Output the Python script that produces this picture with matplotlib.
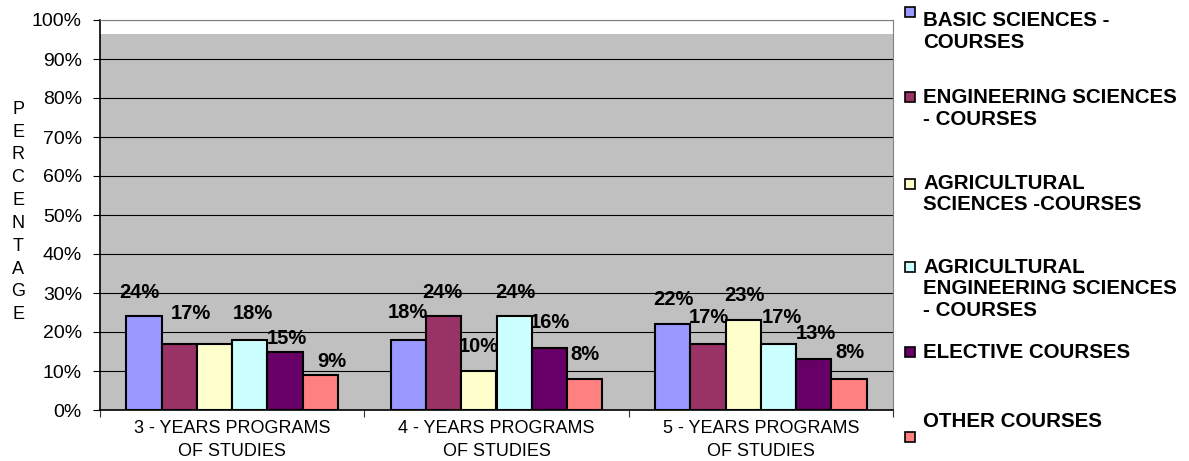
import matplotlib.pyplot as plt
from matplotlib.patches import Rectangle
from matplotlib.ticker import PercentFormatter

# Datos del grafico
programs = ["3 - YEARS PROGRAMS\nOF STUDIES", "4 - YEARS PROGRAMS\nOF STUDIES", "5 - YEARS PROGRAMS\nOF STUDIES"]
series_names = ["BASIC SCIENCES -\nCOURSES", "ENGINEERING SCIENCES\n- COURSES", "AGRICULTURAL\nSCIENCES -COURSES",
                "AGRICULTURAL\nENGINEERING SCIENCES\n- COURSES", "ELECTIVE COURSES", "OTHER COURSES"]
basic = [24, 18, 22]
engineering = [17, 24, 17]
agricultural = [17, 10, 23]
agri_engineering = [18, 24, 17]
elective = [15, 16, 13]
other = [9, 8, 8]
series_values = [basic, engineering, agricultural, agri_engineering, elective, other]
colors = ["#9999FF", "#993366", "#FFFFCC", "#CCFFFF", "#660066", "#FF8080"]
# etiquetas visibles (la de la tercera barra del primer grupo no aparece)
show_label = [[True, True, False, True, True, True],
              [True] * 6,
              [True] * 6]

# desplazamientos de las etiquetas en pixeles (dx, dy) respecto al tope de la barra
label_dx = [[-5, 12, 0, 3, 2, 12], [-1, -1, 0, 1, 1, 0], [1, 1, 1, 3, 2, 1]]
label_dy = [[24, 30, 25, 26, 13, 13], [27, 24, 24, 24, 25, 24], [25, 26, 25, 26, 26, 26]]

plt.rcParams['font.family'] = ['Liberation Sans', 'DejaVu Sans']

W, H = 1189, 461
fig = plt.figure(figsize=(W / 100, H / 100), dpi=100)
ax = fig.add_axes([100 / W, 1 - 410 / H, 793 / W, 390 / H])

# fondo gris del area de trazado
ax.axhspan(0, 96.5, color="#C0C0C0", zorder=0, lw=0)

n = len(series_values)
bar_w = 0.8 / n
for j, vals in enumerate(series_values):
    xs = [i - 0.4 + (j + 0.5) * bar_w for i in range(len(programs))]
    ax.bar(xs, vals, width=bar_w, color=colors[j], edgecolor="black", linewidth=1.5, zorder=2)
    for i, v in enumerate(vals):
        if not show_label[i][j]:
            continue
        ax.annotate(f"{v}%", xy=(xs[i], v), xytext=(label_dx[i][j] * 0.72, label_dy[i][j] * 0.72),
                    textcoords="offset points", ha="center", va="center",
                    fontsize=14.5, fontweight="bold", zorder=3)

ax.set_xlim(-0.5, len(programs) - 0.5)
ax.set_ylim(0, 100)
ax.set_yticks(range(0, 101, 10))
ax.yaxis.set_major_formatter(PercentFormatter(decimals=0))
ax.yaxis.grid(True, color="black", linewidth=0.8)
ax.set_axisbelow(True)

# ticks del eje x en los limites de los grupos, etiquetas en el centro
ax.set_xticks([k - 0.5 for k in range(len(programs) + 1)])
ax.set_xticklabels([])
ax.set_xticks(range(len(programs)), minor=True)
ax.set_xticklabels(programs, minor=True, fontsize=13, linespacing=1.45)
ax.tick_params(axis="x", which="minor", length=0, pad=7)
ax.tick_params(axis="x", which="major", length=5, color="#333333")
ax.tick_params(axis="y", length=5, pad=8, labelsize=14)

ax.spines["top"].set_color("#808080")
ax.spines["right"].set_color("#808080")
ax.spines["left"].set_linewidth(1.2)
ax.spines["bottom"].set_linewidth(1.2)
ax.set_facecolor("white")

# titulo vertical del eje y
fig.text(18 / W, 1 - 212 / H, "\n".join("PERCENTAGE"), ha="center", va="center",
         fontsize=13, linespacing=1.45)

# leyenda manual
marker_y = [12, 97, 184, 267, 352, 437]
text_y = [20, 97, 183, 267, 352, 421]
for j, name in enumerate(series_names):
    fig.patches.append(Rectangle((905 / W, 1 - (marker_y[j] + 5) / H), 10 / W, 10 / H,
                                 transform=fig.transFigure, facecolor=colors[j],
                                 edgecolor="black", linewidth=1.2))
    for k, line in enumerate(name.split("\n")):
        fig.text(923 / W, 1 - (text_y[j] + 22 * k) / H, line, ha="left", va="center",
                 fontsize=14.8, fontweight="bold")

fig.savefig("out.png", dpi=100)
